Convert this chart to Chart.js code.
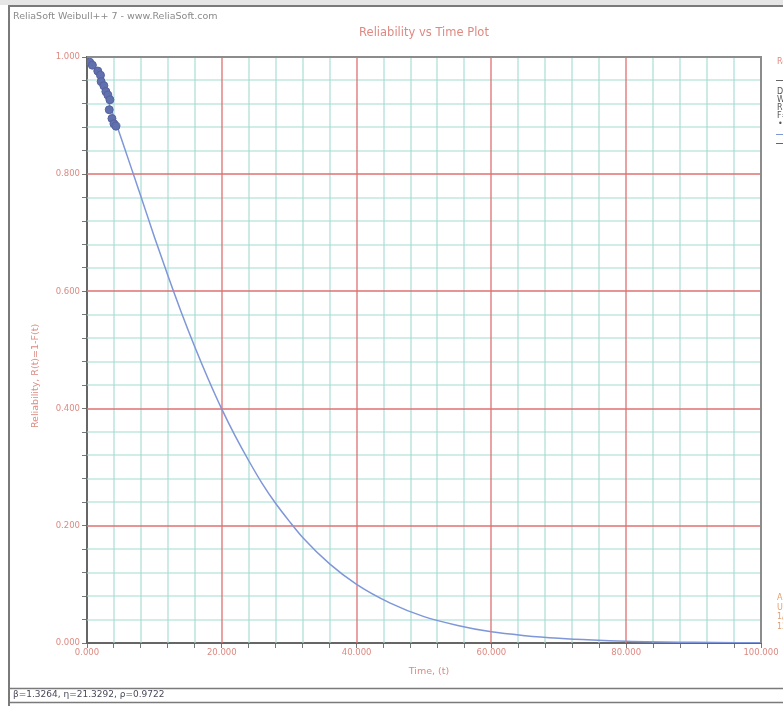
<!DOCTYPE html>
<html>
<head>
<meta charset="utf-8">
<title>Reliability vs Time Plot</title>
<script src="https://cdn.jsdelivr.net/npm/chart.js@4.4.1/dist/chart.umd.min.js"></script>
<style>
  html, body { margin: 0; padding: 0; background: #fff; }
  #wrap { width: 783px; height: 706px; position: relative; }
</style>
</head>
<body>
<div id="wrap"><canvas id="reliabilityChart" width="783" height="706"></canvas></div>
<script>
// fitted reliability line (time, R(t))
const curveTimes = [0, 1, 2, 3, 4, 5, 6, 8, 10, 12, 14, 16, 18, 20, 22, 24, 26, 28, 30, 32, 36, 40, 45, 50, 55, 60, 65, 70, 75, 80, 90, 100];
const curveReliability = [1.000, 0.983, 0.958, 0.929, 0.897, 0.864, 0.830, 0.762, 0.693, 0.627, 0.564, 0.505, 0.450, 0.399, 0.353, 0.311, 0.272, 0.238, 0.208, 0.180, 0.135, 0.100, 0.068, 0.045, 0.030, 0.019, 0.0125, 0.008, 0.005, 0.003, 0.0012, 0.0004];

// plotted data points (failure times)
const failureTimes = [0.4, 0.8, 1.6, 2.0, 2.1, 2.5, 2.8, 3.1, 3.4, 3.3, 3.7, 4.0, 4.3];
const failureReliability = [0.991, 0.986, 0.976, 0.969, 0.958, 0.951, 0.941, 0.935, 0.927, 0.910, 0.895, 0.886, 0.882];

// axis labels
const xTickLabels = ['0.000', '20.000', '40.000', '60.000', '80.000', '100.000'];
const yTickLabels = ['0.000', '0.200', '0.400', '0.600', '0.800', '1.000'];
const xMajorStep = 20, yMajorStep = 0.2;

const paramText = 'β=1.3264, η=21.3292, ρ=0.9722';

const salmon = '#dd8a82';
const majorGrid = '#de7272';
const minorGrid = '#a3dbd1';

function isMajor(v, step) {
    const r = v / step;
    return Math.abs(r - Math.round(r)) < 1e-6;
}

// minor (teal) and major (red) grid, drawn from the scales' own ticks
const gridPlugin = {
    id: 'twoToneGrid',
    beforeDatasetsDraw(chart) {
        const c = chart.ctx;
        const a = chart.chartArea;
        const xs = chart.scales.x, ys = chart.scales.y;
        c.save();
        [false, true].forEach((major) => {
            c.strokeStyle = major ? majorGrid : minorGrid;
            c.lineWidth = major ? 1.3 : 1.1;
            c.beginPath();
            xs.ticks.forEach((t) => {
                if (t.value <= xs.min || t.value >= xs.max) return;
                if (isMajor(t.value, xMajorStep) !== major) return;
                const px = Math.round(xs.getPixelForValue(t.value));
                c.moveTo(px, a.top);
                c.lineTo(px, a.bottom);
            });
            ys.ticks.forEach((t) => {
                if (t.value <= ys.min || t.value >= ys.max) return;
                if (isMajor(t.value, yMajorStep) !== major) return;
                const py = Math.round(ys.getPixelForValue(t.value));
                c.moveTo(a.left, py);
                c.lineTo(a.right, py);
            });
            c.stroke();
        });
        c.restore();
    }
};

// frame, header, footer and clipped legend panel
const decorPlugin = {
    id: 'decor',
    beforeDraw(chart) {
        const c = chart.ctx;
        c.save();
        c.fillStyle = '#fff';
        c.fillRect(0, 0, chart.width, chart.height);
        c.restore();
    },
    afterDraw(chart) {
        const c = chart.ctx;
        const a = chart.chartArea;
        c.save();

        // plot border (top/right lighter)
        c.strokeStyle = '#8c8c8c';
        c.lineWidth = 2;
        c.beginPath();
        c.moveTo(a.left, a.top);
        c.lineTo(a.right, a.top);
        c.lineTo(a.right, a.bottom);
        c.stroke();

        // window frame
        c.fillStyle = '#e6e6e6';
        c.fillRect(0, 0, 783, 5);
        c.strokeStyle = '#7a7a7a';
        c.lineWidth = 2;
        c.beginPath();
        c.moveTo(8, 6); c.lineTo(783, 6);
        c.moveTo(9, 6); c.lineTo(9, 706);
        c.stroke();

        // footer bar
        c.lineWidth = 1.5;
        c.beginPath();
        c.moveTo(9, 688.5); c.lineTo(783, 688.5);
        c.moveTo(9, 702.5); c.lineTo(783, 702.5);
        c.stroke();
        c.fillStyle = '#4a4a5a';
        c.font = '9px "DejaVu Sans"';
        c.textBaseline = 'middle';
        c.textAlign = 'left';
        c.fillText(paramText, 13, 695);

        // header
        c.fillStyle = '#8a8a8a';
        c.font = '9.5px "DejaVu Sans"';
        c.fillText('ReliaSoft Weibull++ 7 - www.ReliaSoft.com', 13, 17);

        // title
        c.fillStyle = salmon;
        c.font = '11.5px "DejaVu Sans"';
        c.textAlign = 'center';
        c.fillText('Reliability vs Time Plot', 424, 33);

        // axis titles
        c.font = '9.5px "DejaVu Sans"';
        c.fillText('Time, (t)', 429, 672);
        c.save();
        c.translate(36, 376);
        c.rotate(-Math.PI / 2);
        c.fillText('Reliability, R(t)=1-F(t)', 0, 0);
        c.restore();

        // legend panel, cut off at the right edge
        c.textAlign = 'left';
        c.font = '8px "DejaVu Sans"';
        c.fillStyle = salmon;
        c.fillText('ReliaSoft', 777, 62);
        c.fillStyle = '#555';
        c.fillText('Data 1', 777, 92);
        c.fillText('Weibull-2P', 777, 100);
        c.fillText('RRX SRM MED FM', 777, 108);
        c.fillText('F=14/S=0', 777, 116);
        c.fillText('• Data Points', 778, 124);
        c.strokeStyle = '#666';
        c.lineWidth = 1;
        c.beginPath();
        c.moveTo(776, 80.5); c.lineTo(783, 80.5);
        c.moveTo(776, 143.5); c.lineTo(783, 143.5);
        c.stroke();
        c.strokeStyle = '#7f96d8';
        c.beginPath();
        c.moveTo(776, 134.5); c.lineTo(783, 134.5);
        c.stroke();
        c.fillStyle = '#e0a070';
        c.fillText('Analyst', 777, 598);
        c.fillText('User', 777, 608);
        c.fillText('1/1/2010', 777, 617);
        c.fillText('12:00:00', 777, 627);

        c.restore();
    }
};

document.addEventListener('DOMContentLoaded', function () {
    const ctx = document.getElementById('reliabilityChart');

    const lineData = curveTimes.map((t, i) => ({ x: t, y: curveReliability[i] }));
    const pointData = failureTimes.map((t, i) => ({ x: t, y: failureReliability[i] }));

    new Chart(ctx, {
        type: 'scatter',
        data: {
            datasets: [
                {
                    label: 'Reliability Line',
                    data: lineData,
                    showLine: true,
                    borderColor: '#7f96d8',
                    borderWidth: 1.5,
                    pointRadius: 0,
                    cubicInterpolationMode: 'monotone',
                    order: 2
                },
                {
                    label: 'Data Points',
                    data: pointData,
                    backgroundColor: '#6170ae',
                    borderColor: '#55639e',
                    borderWidth: 1,
                    pointRadius: 4,
                    order: 1
                }
            ]
        },
        options: {
            responsive: false,
            animation: false,
            layout: { padding: { top: 57, right: 22, left: 0, bottom: 0 } },
            plugins: {
                legend: { display: false },
                title: { display: false },
                tooltip: { enabled: false }
            },
            scales: {
                x: {
                    type: 'linear',
                    min: 0,
                    max: 100,
                    afterFit: (scale) => { scale.height = 63; },
                    ticks: {
                        stepSize: 4,
                        autoSkip: false,
                        maxRotation: 0,
                        padding: 0,
                        color: salmon,
                        font: { family: 'DejaVu Sans', size: 8.5 },
                        callback: (v) => isMajor(v, xMajorStep) ? xTickLabels[Math.round(v / xMajorStep)] : ''
                    },
                    grid: {
                        drawOnChartArea: false,
                        tickColor: '#777',
                        tickLength: 5
                    },
                    border: { color: '#666', width: 2 }
                },
                y: {
                    type: 'linear',
                    min: 0,
                    max: 1,
                    afterFit: (scale) => { scale.width = 87; },
                    ticks: {
                        stepSize: 0.04,
                        autoSkip: false,
                        padding: 2,
                        color: salmon,
                        font: { family: 'DejaVu Sans', size: 8.5 },
                        callback: (v) => isMajor(v, yMajorStep) ? yTickLabels[Math.round(v / yMajorStep)] : ''
                    },
                    grid: {
                        drawOnChartArea: false,
                        tickColor: '#777',
                        tickLength: 5
                    },
                    border: { color: '#666', width: 2 }
                }
            }
        },
        plugins: [gridPlugin, decorPlugin]
    });
});
</script>
</body>
</html>
